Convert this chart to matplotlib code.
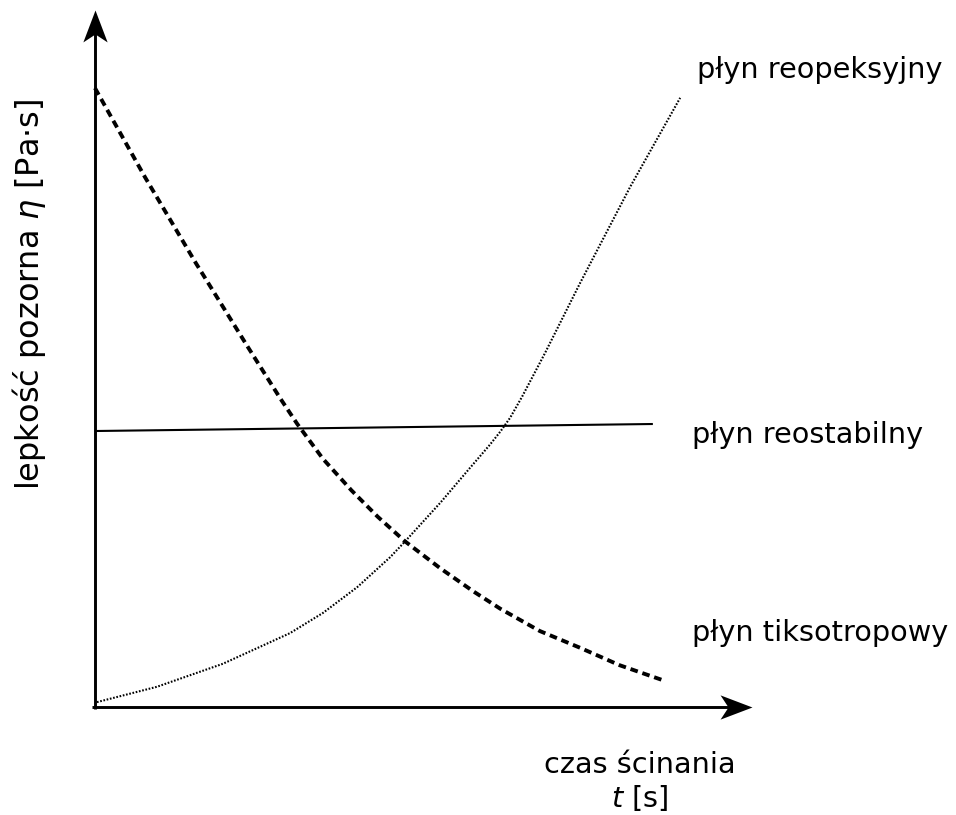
import matplotlib.pyplot as plt
from matplotlib.path import Path

plt.rcParams['font.family'] = ['DejaVu Sans']
plt.rcParams['lines.scale_dashes'] = False

# Dane (jednostki umowne)
t_tikso = [0.03, 0.79, 1.56, 2.34, 2.84, 3.10, 3.49, 3.92, 4.32, 4.73,
           5.27, 5.77, 6.18, 6.78, 7.39, 7.99, 8.63]
eta_tikso = [8.88, 7.60, 6.37, 5.18, 4.43, 4.06, 3.56, 3.11, 2.73, 2.38,
             1.99, 1.66, 1.41, 1.09, 0.85, 0.60, 0.39]

t_reopek = [0.06, 0.97, 1.97, 2.99, 3.49, 4.01, 4.51, 4.73, 5.27, 5.72,
            6.02, 6.18, 6.33, 6.51, 6.86, 7.39, 8.15, 8.91]
eta_reopek = [0.07, 0.29, 0.62, 1.06, 1.35, 1.72, 2.15, 2.37, 2.93, 3.43,
              3.76, 3.95, 4.15, 4.45, 5.08, 6.08, 7.46, 8.74]

t_reostab = [0.06, 8.48]
eta_reostab = [3.96, 4.06]

W, H = 956, 815
fig = plt.figure(figsize=(W / 100, H / 100), dpi=100)
ax = fig.add_axes([93 / W, (H - 707) / H, (752 - 93) / W, (707 - 10) / H])
ax.set_xlim(0, 10)
ax.set_ylim(0, 10)
ax.axis('off')

# Krzywe
ax.plot(t_tikso, eta_tikso, color='black', lw=2.8, dashes=(5.5, 3.5),
        dash_capstyle='butt', dash_joinstyle='round')
ax.plot(t_reopek, eta_reopek, color='black', lw=1.5, dashes=(1.2, 1.2),
        dash_capstyle='butt', dash_joinstyle='round')
ax.plot(t_reostab, eta_reostab, color='black', lw=1.5)

# Osie ze strzałkami (grot typu "stealth")
grot_y = Path([(0, 0), (-0.38, -1), (0, -0.75), (0.38, -1), (0, 0)],
              [Path.MOVETO, Path.LINETO, Path.LINETO, Path.LINETO, Path.CLOSEPOLY])
grot_x = Path([(0, 0), (-1, 0.38), (-0.75, 0), (-1, -0.38), (0, 0)],
              [Path.MOVETO, Path.LINETO, Path.LINETO, Path.LINETO, Path.CLOSEPOLY])
x0 = 0.003
ax.plot([x0, x0], [-0.003, 0.98], color='black', lw=2.1,
        transform=ax.transAxes, clip_on=False, solid_capstyle='butt')
ax.plot([-0.001, 0.98], [0, 0], color='black', lw=2.1,
        transform=ax.transAxes, clip_on=False, solid_capstyle='butt')
ax.plot([x0], [1.0], marker=grot_y, markersize=46, color='black', mew=0,
        transform=ax.transAxes, clip_on=False)
ax.plot([1.0], [0.0], marker=grot_x, markersize=46, color='black', mew=0,
        transform=ax.transAxes, clip_on=False)


def px(x, y):
    return x / W, 1 - y / H


fs = 20.7
fig.text(*px(697, 70), 'płyn reopeksyjny', fontsize=fs, va='center', ha='left')
fig.text(*px(692, 435), 'płyn reostabilny', fontsize=fs, va='center', ha='left')
fig.text(*px(692, 633), 'płyn tiksotropowy', fontsize=fs, va='center', ha='left')
fig.text(*px(640, 765), 'czas ścinania', fontsize=fs, va='center', ha='center')
fig.text(*px(640, 798), '$t$ [s]', fontsize=fs, va='center', ha='center')
fig.text(*px(29, 294), 'lepkość pozorna $\\eta$ [Pa·s]', fontsize=23,
         va='center', ha='center', rotation=90)

fig.savefig('out.png', dpi=100)
